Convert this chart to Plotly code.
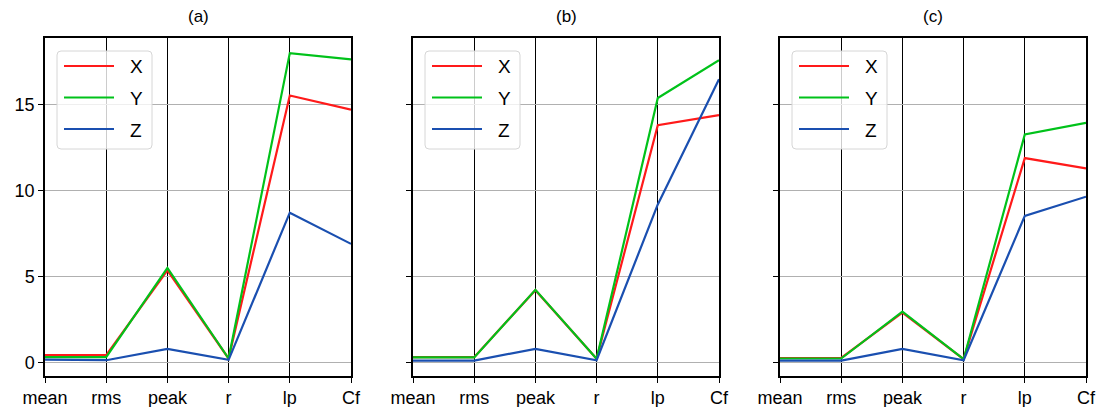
import plotly.graph_objects as go

# Feature names on the parallel axes
features = ["mean", "rms", "peak", "r", "lp", "Cf"]
panel_titles = ["(a)", "(b)", "(c)"]
series_names = ["X", "Y", "Z"]

# Feature values per direction, one set per panel
a_x = [0.42, 0.42, 5.35, 0.22, 15.55, 14.72]
a_y = [0.30, 0.30, 5.50, 0.22, 18.02, 17.65]
a_z = [0.15, 0.12, 0.78, 0.14, 8.72, 6.90]

b_x = [0.30, 0.30, 4.20, 0.20, 13.82, 14.40]
b_y = [0.28, 0.28, 4.22, 0.20, 15.40, 17.60]
b_z = [0.10, 0.10, 0.78, 0.12, 9.20, 16.50]

c_x = [0.25, 0.25, 2.90, 0.18, 11.90, 11.30]
c_y = [0.22, 0.22, 2.95, 0.18, 13.28, 13.96]
c_z = [0.10, 0.10, 0.78, 0.12, 8.53, 9.65]

panels = [(a_x, a_y, a_z), (b_x, b_y, b_z), (c_x, c_y, c_z)]
colors = ["#ff1a1a", "#00c21a", "#1a4fb0"]

y_ticks = [0, 5, 10, 15]
y_range = [-0.8, 18.9]

W, H = 1097, 407
plot_left = [45, 413, 780]
plot_width = 306
plot_top, plot_bottom = 38, 376

fig = go.Figure()


def px_x(p):
    return p / W


def px_y(p):
    return 1 - p / H


def rounded_rect(x0, y0, x1, y1, r):
    # path in paper coordinates from pixel corners
    pts = [
        f"M {px_x(x0 + r)},{px_y(y0)}",
        f"L {px_x(x1 - r)},{px_y(y0)}",
        f"Q {px_x(x1)},{px_y(y0)} {px_x(x1)},{px_y(y0 + r)}",
        f"L {px_x(x1)},{px_y(y1 - r)}",
        f"Q {px_x(x1)},{px_y(y1)} {px_x(x1 - r)},{px_y(y1)}",
        f"L {px_x(x0 + r)},{px_y(y1)}",
        f"Q {px_x(x0)},{px_y(y1)} {px_x(x0)},{px_y(y1 - r)}",
        f"L {px_x(x0)},{px_y(y0 + r)}",
        f"Q {px_x(x0)},{px_y(y0)} {px_x(x0 + r)},{px_y(y0)}",
        "Z",
    ]
    return " ".join(pts)


font_main = "Liberation Sans, Arial, sans-serif"
shapes = []
annotations = []

for i, (vals, title) in enumerate(zip(panels, panel_titles)):
    n = i + 1
    xa = "x" if n == 1 else f"x{n}"
    ya = "y" if n == 1 else f"y{n}"
    for name, v, col in zip(series_names, vals, colors):
        fig.add_trace(go.Scatter(
            x=list(range(len(features))), y=v, mode="lines", name=name,
            line=dict(color=col, width=2.2), showlegend=False,
            xaxis=xa, yaxis=ya,
        ))

    left = plot_left[i]
    dom_x = [left / W, (left + plot_width) / W]
    dom_y = [1 - plot_bottom / H, 1 - plot_top / H]
    fig.update_layout(**{
        ("xaxis" if n == 1 else f"xaxis{n}"): dict(
            domain=dom_x, range=[0, len(features) - 1],
            tickvals=list(range(len(features))), ticktext=features,
            showgrid=True, gridcolor="black", gridwidth=1.2,
            showline=True, linecolor="black", linewidth=1.5, mirror=True,
            ticks="outside", ticklen=5, tickcolor="black", tickwidth=1,
            zeroline=False, anchor=ya, automargin=False,
            tickfont=dict(family=font_main, size=18, color="black"),
        ),
        ("yaxis" if n == 1 else f"yaxis{n}"): dict(
            domain=dom_y, range=y_range, tickvals=y_ticks,
            showticklabels=(n == 1),
            showgrid=True, gridcolor="#b0b0b0", gridwidth=1,
            showline=True, linecolor="black", linewidth=1.5, mirror=True,
            ticks="outside", ticklen=5, tickcolor="black", tickwidth=1,
            zeroline=False, anchor=xa, automargin=False,
            tickfont=dict(family=font_main, size=18, color="black"),
        ),
    })

    # panel title
    annotations.append(dict(
        x=(left + plot_width / 2) / W, y=px_y(17), xref="paper", yref="paper",
        text=title, showarrow=False, xanchor="center", yanchor="middle",
        font=dict(family=font_main, size=17, color="black"),
    ))

    # legend box
    bx0, bx1 = left + 12, left + 107
    by0, by1 = 51, 149
    shapes.append(dict(
        type="path", path=rounded_rect(bx0, by0, bx1, by1, 4),
        xref="paper", yref="paper", layer="above",
        fillcolor="rgba(255,255,255,0.8)",
        line=dict(color="#d6d6d6", width=1),
    ))
    for k, (name, col) in enumerate(zip(series_names, colors)):
        yy = 66 + k * 31.5
        shapes.append(dict(
            type="line", xref="paper", yref="paper", layer="above",
            x0=px_x(left + 19), x1=px_x(left + 69), y0=px_y(yy), y1=px_y(yy),
            line=dict(color=col, width=2.2),
        ))
        annotations.append(dict(
            x=px_x(left + 91), y=px_y(yy + 1), xref="paper", yref="paper",
            text=name, showarrow=False, xanchor="center", yanchor="middle",
            font=dict(family="Liberation Sans Narrow, " + font_main, size=19,
                      color="black"),
        ))

fig.update_layout(
    width=W, height=H, margin=dict(l=0, r=0, t=0, b=0),
    paper_bgcolor="white", plot_bgcolor="white",
    shapes=shapes, annotations=annotations, showlegend=False,
)

fig.write_html("out.html")
